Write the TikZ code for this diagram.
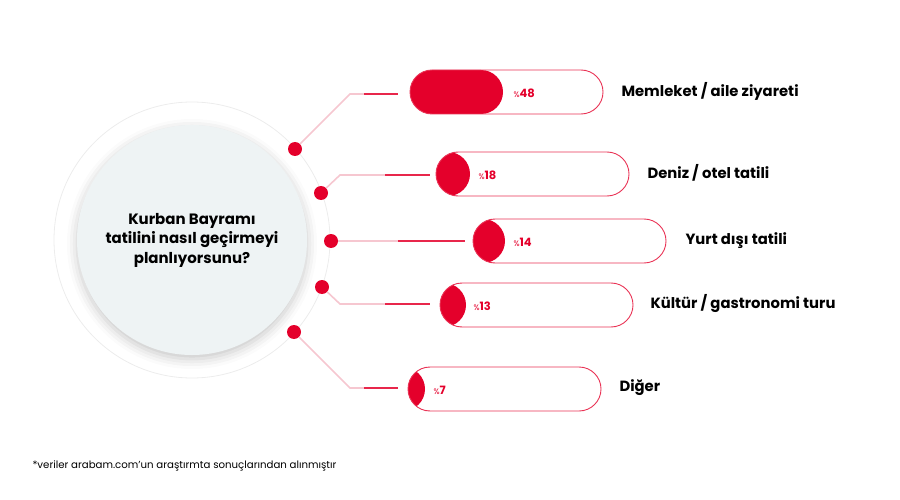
\documentclass[tikz,border=0pt]{standalone}
\usepackage{fontspec}
\setmainfont{Poppins}
\usetikzlibrary{calc,shadows.blur}
\definecolor{bred}{HTML}{E4002B}
\definecolor{bpale}{HTML}{F6C7D0}
\definecolor{bgcirc}{HTML}{EEF3F4}
\tikzset{
  dot/.style={circle,fill=bred,minimum size=14pt,inner sep=0pt},
  lead/.style={line width=1.6pt,bpale},
  leadend/.style={line width=1.6pt,bred!85},
  pct/.style={anchor=west,text=bred,font=\bfseries\fontsize{11.5}{13}\selectfont},
  cat/.style={anchor=west,font=\bfseries\fontsize{14.8}{17}\selectfont},
}
% pill: left x, top y, fill end x, name
\newcommand{\pill}[4]{%
  \begin{scope}
    \clip[rounded corners=22pt] (#1,#2) rectangle ++(193,44);
    \fill[bred,rounded corners=22pt] (#1,#2) rectangle (#3,#2+44);
  \end{scope}
  \draw[bred!80,line width=0.9pt,rounded corners=22pt] (#1,#2) rectangle ++(193,44);
  \coordinate (#4) at (#1,#2+22);
}
\newcommand{\pc}{{\fontsize{8}{10}\mdseries\selectfont\%}}
\begin{document}
\begin{tikzpicture}[x=1pt,y=-1pt]
\useasboundingbox (0,0) rectangle (900,500);

% big circle
\draw[gray!15,line width=0.8pt] (192,240) circle (138);
\fill[bgcirc,blur shadow={shadow xshift=0pt,shadow yshift=-4pt,shadow blur radius=10pt,shadow opacity=22}] (192,240) circle (115);
\node[align=center,font=\bfseries\fontsize{15}{19.5}\selectfont] (q) at (192,240)
  {Kurban Bayramı\\tatilini nasıl geçirmeyi\\planlıyorsunu?};

% dots
\node[dot] (d1) at (295,149) {};
\node[dot] (d2) at (321,193) {};
\node[dot] (d3) at (331,241) {};
\node[dot] (d4) at (322,287) {};
\node[dot] (d5) at (294,332) {};

% bars
\pill{410}{70}{503}{b1}
\pill{436}{152}{470}{b2}
\pill{473}{219}{505}{b3}
\pill{440}{283}{466}{b4}
\pill{408}{367}{425}{b5}

\node[pct] (p1) at (510,93) {\pc48};
\node[pct] (p2) at (475,175) {\pc18};
\node[pct] (p3) at (510,242) {\pc14};
\node[pct] (p4) at (470,306) {\pc13};
\node[pct] (p5) at (430,390) {\pc7};

\node[cat] (c1) at (618,91) {Memleket / aile ziyareti};
\node[cat] (c2) at (644,173) {Deniz / otel tatili};
\node[cat] (c3) at (682,241) {Yurt dışı tatili};
\node[cat] (c4) at (647,304) {Kültür / gastronomi turu};
\node[cat] (c5) at (616,388) {Diğer};

% leaders
\coordinate (k1) at (350,94);  \coordinate (e1) at (398,94);
\coordinate (k2) at (340,175); \coordinate (e2) at (430,175);
\coordinate (e3) at (465,241);
\coordinate (k4) at (340,304); \coordinate (e4) at (430,304);
\coordinate (k5) at (350,388); \coordinate (e5) at (398,388);
\draw[lead] (d1) -- (k1) -- ($(k1)!0.3!(e1)$);
\draw[leadend] ($(k1)!0.3!(e1)$) -- (e1);
\draw[lead] (d2) -- (k2) -- ($(k2)!0.5!(e2)$);
\draw[leadend] ($(k2)!0.5!(e2)$) -- (e2);
\draw[lead] (d3) -- ($(d3)!0.5!(e3)$);
\draw[leadend] ($(d3)!0.5!(e3)$) -- (e3);
\draw[lead] (d4) -- (k4) -- ($(k4)!0.5!(e4)$);
\draw[leadend] ($(k4)!0.5!(e4)$) -- (e4);
\draw[lead] (d5) -- (k5) -- ($(k5)!0.3!(e5)$);
\draw[leadend] ($(k5)!0.3!(e5)$) -- (e5);

\node[anchor=west,font=\fontsize{10.2}{12}\selectfont] (note) at (29,466)
  {*veriler arabam.com’un araştırmta sonuçlarından alınmıştır};
\end{tikzpicture}
\end{document}
